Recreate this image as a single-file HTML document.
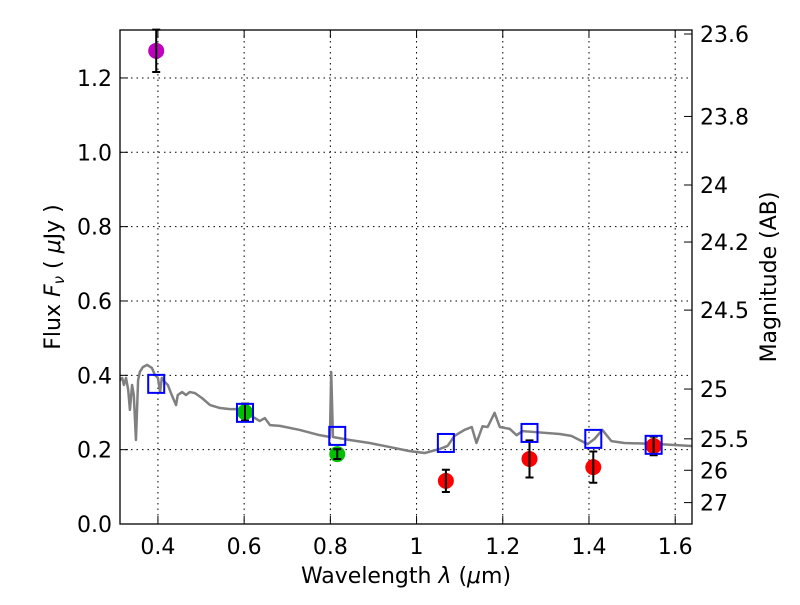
<!DOCTYPE html>
<html><head><meta charset="utf-8"><style>
body{margin:0;background:#fff}
svg text{font-family:"DejaVu Sans","Liberation Sans",sans-serif;fill:#000}
</style></head><body>
<svg id="chart" width="800" height="600" viewBox="0 0 800 600">
<rect width="800" height="600" fill="#fff"/>
<g id="grid"></g>
<g id="ticks"></g>
<g id="series"></g>
<rect x="120" y="30" width="572" height="494" fill="none" stroke="#000" stroke-width="1.3"/>
<text x="406" y="583" font-size="22" text-anchor="middle">Wavelength  <tspan font-style="italic">λ</tspan> (<tspan font-style="italic">μ</tspan>m)</text>
<text transform="translate(60,277) rotate(-90)" font-size="22" text-anchor="middle">Flux  <tspan font-style="italic">F</tspan><tspan font-style="italic" font-size="15" dy="4">ν</tspan><tspan dy="-4">  ( </tspan><tspan font-style="italic">μ</tspan>Jy )</text>
<text transform="translate(776,277) rotate(-90)" font-size="22" text-anchor="middle">Magnitude (AB)</text>
</svg>
<script>
const xTicks=[0.4,0.6,0.8,1.0,1.2,1.4,1.6];
const xTickLabels=["0.4","0.6","0.8","1","1.2","1.4","1.6"];
const yTicks=[0,0.2,0.4,0.6,0.8,1.0,1.2];
const yTickLabels=["0.0","0.2","0.4","0.6","0.8","1.0","1.2"];
const magTicks=[23.6,23.8,24,24.2,24.5,25,25.5,26,27];
const magTickLabels=["23.6","23.8","24","24.2","24.5","25","25.5","26","27"];
const specWave=[.312,.317,.321,.326,.331,.335,.340,.344,.349,.354,.358,.365,.375,.386,.393,.400,.405,.409,.416,.423,.432,.442,.446,.456,.465,.474,.486,.502,.521,.544,.567,.590,.602,.625,.636,.648,.660,.683,.729,.775,.799,.802,.806,.845,.891,.938,.984,1.019,1.054,1.072,1.088,1.111,1.128,1.139,1.153,1.165,1.181,1.193,1.216,1.232,1.246,1.267,1.332,1.359,1.397,1.413,1.431,1.452,1.482,1.563,1.638];
const specFlux=[.387,.393,.374,.393,.361,.307,.374,.347,.226,.387,.409,.422,.428,.420,.401,.393,.355,.393,.382,.374,.347,.320,.347,.355,.347,.355,.352,.339,.320,.312,.309,.309,.299,.285,.277,.285,.266,.264,.253,.239,.234,.409,.234,.226,.218,.207,.196,.191,.202,.210,.237,.253,.261,.218,.263,.261,.299,.261,.256,.239,.250,.248,.242,.237,.215,.229,.253,.223,.218,.215,.210];
const obsWave=[0.396,0.602,0.816,1.068,1.262,1.410,1.550];
const obsFlux=[1.273,0.301,0.188,0.116,0.175,0.153,0.210];
const obsErr=[0.057,0.023,0.013,0.030,0.050,0.042,0.025];
const obsColor=["#bf00bf","#00bf00","#00bf00","#ff0000","#ff0000","#ff0000","#ff0000"];
const modelFlux=[0.377,0.299,0.237,0.218,0.245,0.229,0.213];

const NS="http://www.w3.org/2000/svg";
const X0=120,X1=692,Y0=524,Y1=30,xmin=0.312,xmax=1.639,ymin=0,ymax=1.329;
const sx=v=>X0+(v-xmin)/(xmax-xmin)*(X1-X0);
const sy=v=>Y0-(v-ymin)/(ymax-ymin)*(Y0-Y1);
function mk(tag,attrs,parent){const e=document.createElementNS(NS,tag);for(const k in attrs)e.setAttribute(k,attrs[k]);parent.appendChild(e);return e;}
const grid=document.getElementById('grid'),ticks=document.getElementById('ticks'),series=document.getElementById('series');
xTicks.forEach((t,i)=>{const x=sx(t);
 const g=mk('line',{x1:x,x2:x,y1:Y1,y2:Y0,stroke:'#000','stroke-dasharray':'1.5,4','stroke-width':1},grid);
 
 
 mk('line',{x1:x,x2:x,y1:Y0,y2:Y0-8,stroke:'#000'},ticks);
 mk('line',{x1:x,x2:x,y1:Y1,y2:Y1+8,stroke:'#000'},ticks);
 const tx=mk('text',{x:x,y:Y0+30,'font-size':22,'text-anchor':'middle'},ticks);tx.textContent=xTickLabels[i];
 
 });
yTicks.forEach((t,i)=>{const y=sy(t);
 const g=mk('line',{x1:X0,x2:X1,y1:y,y2:y,stroke:'#000','stroke-dasharray':'1.5,4','stroke-width':1},grid);
 
 
 mk('line',{x1:X0,x2:X0+8,y1:y,y2:y,stroke:'#000'},ticks);
 const tx=mk('text',{x:X0-8,y:y+8,'font-size':22,'text-anchor':'end'},ticks);tx.textContent=yTickLabels[i];
 
 });
magTicks.forEach((m,i)=>{const y=sy(Math.pow(10,(23.9-m)/2.5));
 mk('line',{x1:X1,x2:X1-8,y1:y,y2:y,stroke:'#000'},ticks);
 const tx=mk('text',{x:X1+8,y:y+8,'font-size':22},ticks);tx.textContent=magTickLabels[i];
 
 });
const pl=mk('polyline',{points:specWave.map((w,i)=>sx(w)+','+sy(specFlux[i])).join(' '),fill:'none',stroke:'#808080','stroke-width':2.5,'stroke-linejoin':'round'},series);


obsWave.forEach((w,i)=>{const x=sx(w),y=sy(obsFlux[i]);
 const c=mk('circle',{cx:x,cy:y,r:8,fill:obsColor[i]},series);
 
 
 const yt=sy(obsFlux[i]+obsErr[i]),yb=sy(obsFlux[i]-obsErr[i]);
 const eb=mk('path',{d:`M${x},${yt}V${yb}M${x-4},${yt}H${x+4}M${x-4},${yb}H${x+4}`,stroke:'#000','stroke-width':2,fill:'none'},series);
 
 
 const s=mk('rect',{x:x-8,y:sy(modelFlux[i])-9,width:16,height:18,fill:'none',stroke:'#0000ff','stroke-width':2},series);
 
 });
</script>
</body></html>
